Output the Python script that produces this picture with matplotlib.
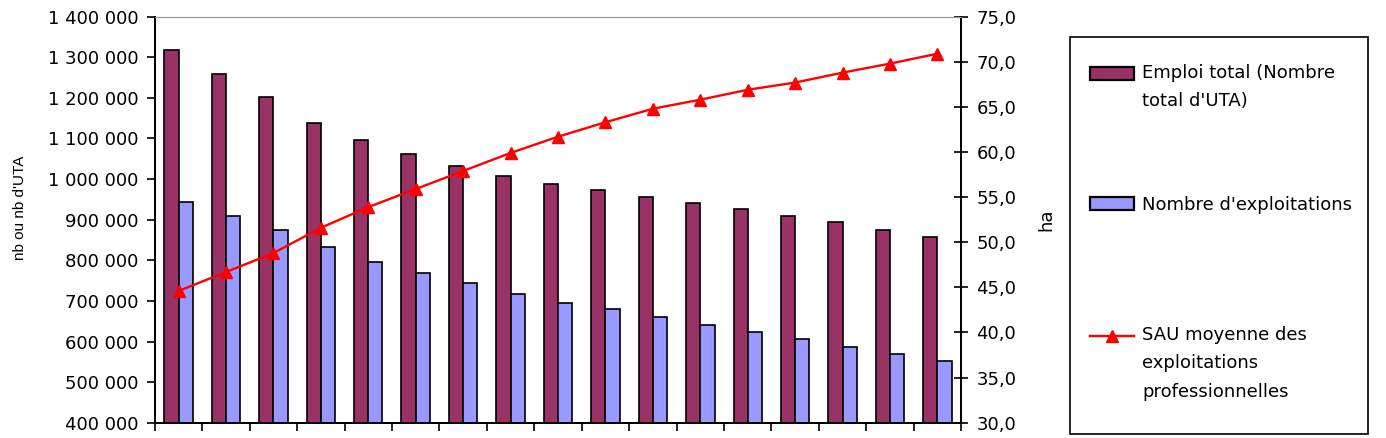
import numpy as np
import matplotlib
matplotlib.use("Agg")
import matplotlib.pyplot as plt
from matplotlib.patches import Rectangle, Patch
from matplotlib.lines import Line2D
from matplotlib.ticker import MultipleLocator, FuncFormatter
from matplotlib.legend_handler import HandlerPatch, HandlerLine2D

# --- données (17 périodes, sans libellés) ---
emploi = [1318000, 1259000, 1203000, 1139000, 1096000, 1061000, 1033000, 1008000,
          988000, 973000, 957000, 942000, 926000, 909000, 894000, 875000, 858000]
exploitations = [943000, 909000, 875000, 832000, 795000, 768000, 743000, 716000,
                 696000, 680000, 661000, 641000, 624000, 605000, 586000, 569000, 553000]
sau = [44.6, 46.7, 48.8, 51.6, 53.9, 55.9, 57.9, 59.9, 61.7, 63.3,
       64.8, 65.8, 66.9, 67.7, 68.8, 69.8, 70.9]

lab_emploi = "Emploi total (Nombre\ntotal d'UTA)"
lab_expl = "Nombre d'exploitations"
lab_sau = "SAU moyenne des\nexploitations\nprofessionnelles"

C_EMPLOI = "#993366"
C_EXPL = "#9999FF"
C_SAU = "#FF0000"
FS = 13

plt.rcParams["font.family"] = ["DejaVu Sans"]

x = np.arange(len(emploi))
w = 0.3

fig = plt.figure(figsize=(13.86, 4.38), dpi=100)
ax = fig.add_axes([0.1117, 0.0349, 0.5818, 0.9270])
ax2 = ax.twinx()

ax.bar(x - w / 2, emploi, w, color=C_EMPLOI, edgecolor="black", lw=1.2, zorder=2)
ax.bar(x + w / 2, exploitations, w, color=C_EXPL, edgecolor="black", lw=1.2, zorder=2)
ax2.plot(x, sau, color=C_SAU, lw=1.7, marker="^", ms=8, mec=C_SAU, mfc=C_SAU)

ax.set_xlim(-0.5, len(emploi) - 0.5)
ax.set_ylim(400000, 1400000)
ax2.set_ylim(30, 75)
ax.yaxis.set_major_locator(MultipleLocator(100000))
ax2.yaxis.set_major_locator(MultipleLocator(5))
ax.yaxis.set_major_formatter(FuncFormatter(lambda v, p: f"{v:,.0f}".replace(",", " ")))
ax2.yaxis.set_major_formatter(FuncFormatter(lambda v, p: f"{v:.1f}".replace(".", ",")))

ax.set_xticks(np.arange(-0.5, len(emploi), 1))
ax.set_xticklabels([])
ax.tick_params(axis="x", direction="out", length=6, width=1.2)
ax.tick_params(axis="y", direction="out", length=6, width=1.2, labelsize=FS, pad=6)
ax2.tick_params(axis="y", direction="inout", length=10, width=1.2, labelsize=FS, pad=6)

for a in (ax, ax2):
    a.spines["top"].set_color("#999999")
    a.spines["left"].set_linewidth(1.4)
    a.spines["right"].set_linewidth(1.4)
    a.spines["bottom"].set_linewidth(1.4)

ax.set_ylabel("nb ou nb d'UTA", fontsize=11, family="Liberation Sans")
ax.yaxis.set_label_coords(-0.158, 0.53)
ax2.set_ylabel("ha", fontsize=13)
ax2.yaxis.set_label_coords(1.094, 0.50)


# légende : poignée alignée sur la première ligne du texte
class ShiftPatch(HandlerPatch):
    def __init__(self, dy, **kw):
        super().__init__(**kw)
        self.dy = dy

    def adjust_drawing_area(self, legend, orig_handle, xdescent, ydescent, width, height, fontsize):
        xd, yd, ww, hh = super().adjust_drawing_area(legend, orig_handle, xdescent, ydescent,
                                                     width, height, fontsize)
        return xd, yd - self.dy, ww, hh


class ShiftLine(HandlerLine2D):
    def __init__(self, dy, **kw):
        super().__init__(**kw)
        self.dy = dy

    def adjust_drawing_area(self, legend, orig_handle, xdescent, ydescent, width, height, fontsize):
        xd, yd, ww, hh = super().adjust_drawing_area(legend, orig_handle, xdescent, ydescent,
                                                     width, height, fontsize)
        return xd, yd - 2 * self.dy, ww, hh


H, W = 438.0, 1386.0
step = 20.5  # pt entre deux lignes
h1 = Patch(facecolor=C_EMPLOI, edgecolor="black", lw=1.6)
h2 = Patch(facecolor=C_EXPL, edgecolor="black", lw=1.6)
h3 = Line2D([], [], color=C_SAU, lw=1.7, marker="^", ms=8)
entries = [(h1, lab_emploi, 87, ShiftPatch(step / 2)),
           (h2, lab_expl, 204.5, ShiftPatch(0)),
           (h3, lab_sau, 363.5, ShiftLine(step))]
for h, lab, yc, hdl in entries:
    leg = fig.legend([h], [lab], loc="center left", bbox_to_anchor=(1090 / W, 1 - yc / H),
                     frameon=False, fontsize=FS, borderpad=0, borderaxespad=0,
                     handlelength=2.45, handleheight=0.735, handletextpad=0.45,
                     handler_map={type(h): hdl})
    for t in leg.get_texts():
        t.set_linespacing(1.75)

fig.patches.append(Rectangle((1070 / W, 1 - 434 / H), 298 / W, 397 / H,
                             transform=fig.transFigure, fill=False,
                             edgecolor="black", lw=1.2))

fig.savefig("out.png", dpi=100)
